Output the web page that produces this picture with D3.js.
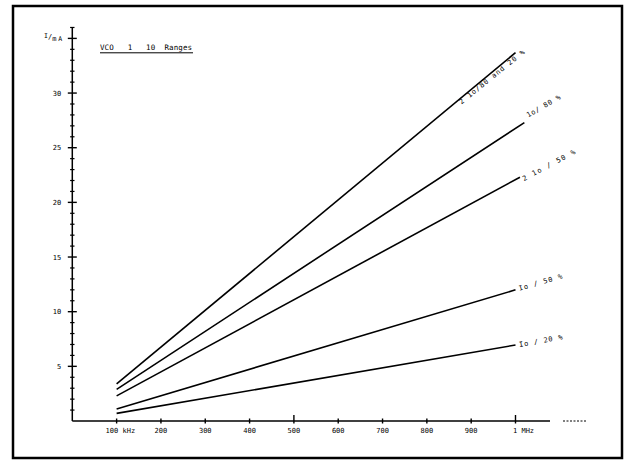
<!DOCTYPE html>
<html><head><meta charset="utf-8">
<script src="https://cdn.jsdelivr.net/npm/d3@7"></script>
<style>
html,body{margin:0;padding:0;background:#fff;}
text{font-family:"DejaVu Sans Mono","Liberation Mono",monospace;fill:#000;white-space:pre;}
</style></head>
<body>
<svg id="c" width="627" height="462"></svg>
<script>
// ---- data ----
const seriesNames = ["2 1o/80 and 20 %", "1o/ 80 %", "2 1o / 50 %", "Io / 50 %", "Io / 20 %"];
const startFreq = [100, 100, 100, 100, 100];          // kHz
const endFreq   = [1000, 1020, 1010, 1000, 1000];     // kHz
const startVal  = [3.4, 2.9, 2.3, 1.1, 0.7];          // mA
const endVal    = [33.7, 27.3, 22.3, 12.0, 6.95];     // mA
const xTickVals   = [100, 200, 300, 400, 500, 600, 700, 800, 900, 1000];
const xTickLabels = ["100 kHz", "200", "300", "400", "500", "600", "700", "800", "900", "1 MHz"];
const yTickVals   = [5, 10, 15, 20, 25, 30];
const title = "VCO   1   10  Ranges";

// ---- layout / style ----
const labelStyle = [
  {dx: -54, dy: 52, ang: -39, len: 82},
  {dx: 4, dy: -5, ang: -30, len: 38},
  {dx: 4, dy: 4, ang: -28, len: 59},
  {dx: 4, dy: 1, ang: -16, len: 45},
  {dx: 4, dy: 2, ang: -10, len: 44}
];

const svg = d3.select("#c");
const x = d3.scaleLinear().domain([0, 1000]).range([72.3, 515.5]);
const y = d3.scaleLinear().domain([0, 35]).range([421, 38.4]);

// frame
svg.append("rect").attr("x", 13).attr("y", 6).attr("width", 609).attr("height", 452)
  .attr("fill", "none").attr("stroke", "#000").attr("stroke-width", 2.5);

// y axis
const g = svg.append("g");
g.append("line").attr("x1", x(0)).attr("x2", x(0)).attr("y1", y(36)).attr("y2", y(0))
  .attr("stroke", "#000").attr("stroke-width", 1.5);
d3.range(1, 37).forEach(v => {
  const major = v % 5 === 0;
  const h = major ? 4.5 : 2.2;
  g.append("line").attr("x1", x(0) - h).attr("x2", x(0) + h).attr("y1", y(v)).attr("y2", y(v))
    .attr("stroke", "#000").attr("stroke-width", major ? 1.4 : 1.2);
});
g.selectAll("text.yl").data(yTickVals).enter().append("text")
  .attr("x", x(0) - 11).attr("y", d => y(d) + 2.5).attr("text-anchor", "end")
  .attr("font-size", 7).text(d => d);
// y unit label  I/mA
const yl = g.append("text").attr("x", 44).attr("y", y(35) + 2.5).attr("font-size", 7);
yl.append("tspan").attr("font-size", 6.5).attr("dy", -3).text("I");
yl.append("tspan").attr("dy", 1).attr("font-size", 7).text("/");
yl.append("tspan").attr("dy", 2).attr("font-size", 7).text("m");
yl.append("tspan").attr("dy", 0).attr("dx", 2).attr("font-size", 6.5).text("A");

// x axis
g.append("line").attr("x1", x(0)).attr("x2", 550).attr("y1", y(0)).attr("y2", y(0))
  .attr("stroke", "#000").attr("stroke-width", 1.5);
g.append("line").attr("x1", 563).attr("x2", 587).attr("y1", y(0)).attr("y2", y(0))
  .attr("stroke", "#000").attr("stroke-width", 1).attr("stroke-dasharray", "2,1.5");
xTickVals.forEach((v, i) => {
  const up = (v === 500 || v === 1000) ? 6 : 2.5;
  g.append("line").attr("x1", x(v)).attr("x2", x(v)).attr("y1", y(0) - up).attr("y2", y(0) + 2.5)
    .attr("stroke", "#000").attr("stroke-width", 1.4);
});
g.selectAll("text.xl").data(xTickVals).enter().append("text")
  .attr("x", (d, i) => i === 0 ? x(d) - 11 : (i === 9 ? x(d) - 2.5 : x(d)))
  .attr("y", y(0) + 12)
  .attr("text-anchor", (d, i) => (i === 0 || i === 9) ? "start" : "middle")
  .attr("font-size", 7).text((d, i) => xTickLabels[i]);

// title
svg.append("text").attr("x", 100).attr("y", 50).attr("font-size", 7.5)
  .attr("textLength", 92).attr("lengthAdjust", "spacing").text(title);
svg.append("line").attr("x1", 100).attr("x2", 193).attr("y1", 52.8).attr("y2", 52.8)
  .attr("stroke", "#000").attr("stroke-width", 1);

// series lines
const line = d3.line().x(d => x(d[0])).y(d => y(d[1]));
seriesNames.forEach((name, i) => {
  const pts = [[startFreq[i], startVal[i]], [endFreq[i], endVal[i]]];
  svg.append("path").attr("d", line(pts)).attr("fill", "none")
    .attr("stroke", "#000").attr("stroke-width", 1.6);
  const s = labelStyle[i];
  const lx = x(endFreq[i]) + s.dx, ly = y(endVal[i]) + s.dy;
  svg.append("text").attr("transform", `translate(${lx},${ly}) rotate(${s.ang})`)
    .attr("font-size", 7).attr("textLength", s.len).attr("lengthAdjust", "spacing")
    .text(name);
});
</script>
</body></html>
